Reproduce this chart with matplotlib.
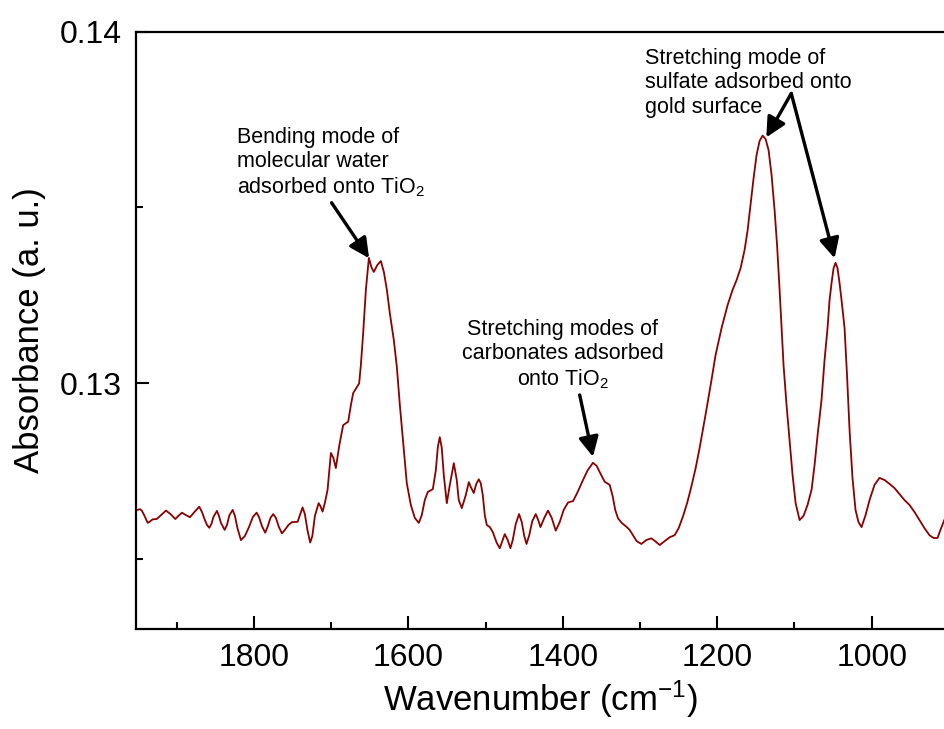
import matplotlib
matplotlib.use("Agg")
import matplotlib.pyplot as plt
from matplotlib.ticker import MultipleLocator

plt.rcParams['font.family'] = ['Liberation Sans', 'DejaVu Sans']
plt.rcParams['mathtext.fontset'] = 'custom'
plt.rcParams['mathtext.rm'] = 'Liberation Sans'
plt.rcParams['mathtext.it'] = 'Liberation Sans:italic'
plt.rcParams['mathtext.bf'] = 'Liberation Sans:bold'

wavenumber = [
    1950.5, 1947.5, 1944.9, 1941.7, 1937.5, 1934.6, 1931.1, 1925.9, 1920.3, 1913.9,
    1908.0, 1901.8, 1897.7, 1893.2, 1888.0, 1882.8, 1877.0, 1870.8, 1867.3, 1864.0,
    1860.8, 1857.8, 1855.0, 1852.4, 1847.9, 1845.3, 1842.7, 1837.9, 1834.9, 1831.7,
    1827.5, 1824.6, 1821.3, 1816.8, 1811.6, 1806.4, 1801.3, 1796.5, 1793.5, 1789.6,
    1785.4, 1781.9, 1778.6, 1775.0, 1771.5, 1767.6, 1763.7, 1759.9, 1755.3, 1750.8,
    1743.4, 1740.4, 1737.0, 1734.0, 1730.7, 1727.1, 1724.3, 1721.0, 1716.2, 1713.9,
    1711.1, 1708.1, 1704.6, 1700.3, 1697.1, 1693.9, 1689.3, 1684.4, 1677.9, 1674.4,
    1671.5, 1663.7, 1661.5, 1658.5, 1655.0, 1651.1, 1647.9, 1644.7, 1640.1, 1635.6,
    1631.7, 1627.8, 1624.0, 1618.8, 1614.9, 1611.0, 1605.8, 1602.0, 1596.8, 1591.6,
    1586.4, 1582.6, 1578.7, 1574.8, 1568.3, 1564.4, 1561.8, 1559.3, 1556.7, 1554.1,
    1550.2, 1546.3, 1541.1, 1537.3, 1534.7, 1530.8, 1525.6, 1521.7, 1519.1, 1515.3,
    1512.0, 1508.8, 1506.2, 1503.6, 1501.0, 1498.4, 1494.5, 1490.7, 1485.5, 1481.6,
    1478.4, 1475.1, 1471.3, 1467.8, 1464.8, 1460.9, 1456.6, 1453.1, 1449.9, 1447.0,
    1443.4, 1439.5, 1435.0, 1431.8, 1428.9, 1424.0, 1419.1, 1414.3, 1409.1, 1404.0,
    1398.8, 1393.2, 1386.7, 1380.7, 1373.8, 1367.7, 1360.9, 1356.1, 1350.9, 1345.7,
    1339.2, 1335.4, 1332.1, 1328.5, 1323.7, 1317.6, 1313.4, 1309.1, 1304.3, 1298.2,
    1292.0, 1285.3, 1280.4, 1274.5, 1268.1, 1261.6, 1255.1, 1249.9, 1244.4, 1238.9,
    1233.5, 1227.9, 1222.8, 1216.3, 1208.5, 1202.1, 1194.3, 1186.5, 1180.1, 1174.9,
    1169.7, 1164.5, 1160.6, 1156.8, 1152.9, 1149.0, 1145.1, 1141.2, 1137.3, 1133.5,
    1129.6, 1125.7, 1122.5, 1119.2, 1116.6, 1114.1, 1110.2, 1106.3, 1102.4, 1098.5,
    1093.3, 1088.2, 1083.0, 1077.8, 1073.9, 1070.0, 1064.9, 1061.0, 1057.1, 1054.5,
    1051.9, 1049.3, 1046.8, 1044.2, 1041.6, 1039.0, 1035.1, 1031.9, 1028.6, 1024.8,
    1020.9, 1017.0, 1013.1, 1007.9, 1002.7, 996.3, 989.8, 983.3, 976.9, 970.4,
    963.9, 957.5, 951.0, 944.5, 938.0, 931.6, 925.1, 919.9, 914.7, 910.9, 905.9]

absorbance = [
    0.12639, 0.12641, 0.12636, 0.12622, 0.12602, 0.12606, 0.12612, 0.12613, 0.12624, 0.12637,
    0.12627, 0.12613, 0.12622, 0.12631, 0.12624, 0.12618, 0.12633, 0.12648, 0.12633, 0.12613,
    0.12596, 0.12588, 0.12599, 0.12619, 0.12636, 0.12622, 0.12602, 0.12582, 0.12596, 0.12624,
    0.12639, 0.12622, 0.12587, 0.12553, 0.12565, 0.12590, 0.12619, 0.12631, 0.12619, 0.12593,
    0.12574, 0.12593, 0.12616, 0.12627, 0.12616, 0.12590, 0.12572, 0.12582, 0.12596, 0.12604,
    0.12605, 0.12624, 0.12646, 0.12627, 0.12582, 0.12546, 0.12565, 0.12622, 0.12658, 0.12650,
    0.12634, 0.12659, 0.12696, 0.12801, 0.12787, 0.12758, 0.12824, 0.12880, 0.12890, 0.12937,
    0.12971, 0.12999, 0.13051, 0.13142, 0.13265, 0.13356, 0.13330, 0.13316, 0.13336, 0.13347,
    0.13316, 0.13265, 0.13199, 0.13122, 0.13046, 0.12937, 0.12809, 0.12715, 0.12653, 0.12616,
    0.12602, 0.12624, 0.12667, 0.12690, 0.12698, 0.12752, 0.12818, 0.12846, 0.12815, 0.12738,
    0.12658, 0.12710, 0.12772, 0.12724, 0.12667, 0.12644, 0.12681, 0.12718, 0.12704, 0.12687,
    0.12713, 0.12726, 0.12715, 0.12681, 0.12624, 0.12596, 0.12590, 0.12576, 0.12545, 0.12530,
    0.12550, 0.12570, 0.12553, 0.12530, 0.12553, 0.12599, 0.12627, 0.12604, 0.12565, 0.12542,
    0.12567, 0.12607, 0.12627, 0.12610, 0.12590, 0.12616, 0.12637, 0.12616, 0.12580, 0.12604,
    0.12639, 0.12660, 0.12664, 0.12690, 0.12724, 0.12752, 0.12773, 0.12764, 0.12741, 0.12719,
    0.12710, 0.12678, 0.12639, 0.12615, 0.12602, 0.12591, 0.12582, 0.12567, 0.12550, 0.12542,
    0.12553, 0.12558, 0.12550, 0.12539, 0.12550, 0.12561, 0.12567, 0.12587, 0.12620, 0.12659,
    0.12705, 0.12758, 0.12815, 0.12895, 0.12994, 0.13080, 0.13157, 0.13222, 0.13265, 0.13293,
    0.13327, 0.13379, 0.13435, 0.13507, 0.13583, 0.13649, 0.13689, 0.13704, 0.13694, 0.13663,
    0.13592, 0.13492, 0.13393, 0.13265, 0.13157, 0.13051, 0.12937, 0.12838, 0.12738, 0.12659,
    0.12610, 0.12622, 0.12653, 0.12696, 0.12767, 0.12852, 0.12952, 0.13065, 0.13157, 0.13236,
    0.13285, 0.13327, 0.13342, 0.13327, 0.13285, 0.13236, 0.13157, 0.13023, 0.12866, 0.12730,
    0.12639, 0.12604, 0.12590, 0.12624, 0.12667, 0.12710, 0.12730, 0.12724, 0.12713, 0.12701,
    0.12684, 0.12667, 0.12653, 0.12633, 0.12610, 0.12587, 0.12567, 0.12559, 0.12559, 0.12582, 0.12610]

x_ticks = [1800, 1600, 1400, 1200, 1000]
y_ticks = [0.13, 0.14]
y_tick_labels = ['0.13', '0.14']

fig = plt.figure(figsize=(9.45, 7.29), dpi=100)
ax = fig.add_axes([136/945, 1 - 629/729, 1 - 136/945, (629 - 31.6)/729])

ax.plot(wavenumber, absorbance, color='#8b0000', lw=1.3)

ax.set_xlim(1952.7, 905)
ax.set_ylim(0.123, 0.14)
ax.set_xticks(x_ticks)
ax.set_xticklabels([str(v) for v in x_ticks])
ax.set_yticks(y_ticks)
ax.set_yticklabels(y_tick_labels)
ax.xaxis.set_minor_locator(MultipleLocator(100))
ax.yaxis.set_minor_locator(MultipleLocator(0.005))

ax.spines['right'].set_visible(False)
for s in ['left', 'bottom', 'top']:
    ax.spines[s].set_linewidth(1.6)
ax.tick_params(which='major', direction='in', length=9.5, width=1.5, labelsize=23, pad=10,
               top=False, right=False)
ax.tick_params(which='minor', direction='in', length=5, width=1.5, top=False, right=False)

ax.set_xlabel('Wavenumber (cm$^{-1}$)', fontsize=25, labelpad=4)
ax.set_ylabel('Absorbance (a. u.)', fontsize=25, labelpad=10)

arrow = dict(arrowstyle='-|>,head_length=1.2,head_width=0.6', color='black', lw=2.4,
             shrinkA=0, shrinkB=0)
fs = 15.5

ax.text(1822, 0.13626, 'Bending mode of\nmolecular water\nadsorbed onto TiO$_2$',
        ha='left', va='center', fontsize=fs, linespacing=1.2)
ax.annotate('', xy=(1650.8, 0.13355), xytext=(1699.4, 0.13513), arrowprops=arrow)

ax.text(1400, 0.13080, 'Stretching modes of\ncarbonates adsorbed\nonto TiO$_2$',
        ha='center', va='center', fontsize=fs, linespacing=1.2, multialignment='center')
ax.annotate('', xy=(1360.9, 0.12790), xytext=(1378.1, 0.12966), arrowprops=arrow)

ax.text(1293.9, 0.13854, 'Stretching mode of\nsulfate adsorbed onto\ngold surface',
        ha='left', va='center', fontsize=fs, linespacing=1.2)
ax.annotate('', xy=(1136.4, 0.13699), xytext=(1104.1, 0.13824), arrowprops=arrow)
ax.annotate('', xy=(1048.0, 0.13355), xytext=(1104.1, 0.13824), arrowprops=arrow)

fig.savefig('out.png', dpi=100)
